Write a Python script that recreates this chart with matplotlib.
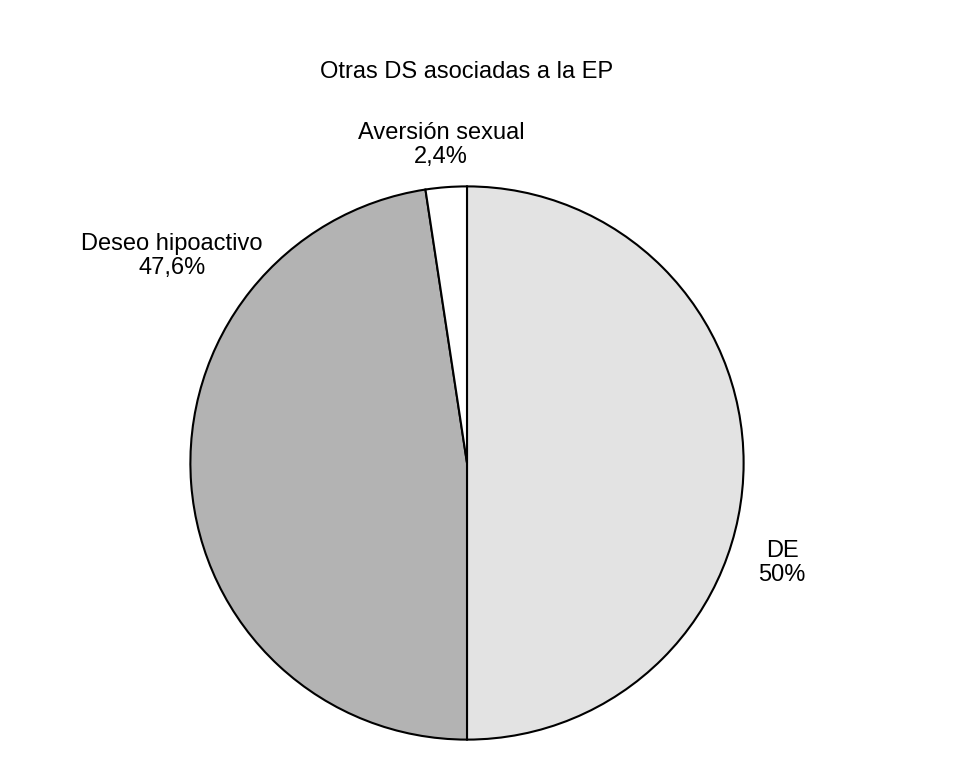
import matplotlib
matplotlib.use('Agg')
import matplotlib.pyplot as plt
from matplotlib import font_manager

# data
labels = ['DE', 'Deseo hipoactivo', 'Aversión sexual']
valores = [50.0, 47.6, 2.4]
etiquetas_pct = ['50%', '47,6%', '2,4%']
colores = ['#e3e3e3', '#b3b3b3', '#ffffff']

names = {f.name for f in font_manager.fontManager.ttflist}
fam = 'Liberation Sans Narrow' if 'Liberation Sans Narrow' in names else 'Liberation Sans'
plt.rcParams['font.family'] = [fam, 'DejaVu Sans']

W, H = 977, 768
fig = plt.figure(figsize=(W / 100, H / 100), dpi=100)
cx, cy, r = 467, 463, 278
ax = fig.add_axes([(cx - r) / W, (H - cy - r) / H, 2 * r / W, 2 * r / H])

ax.pie(valores, colors=colores, startangle=90, counterclock=False, radius=0.995,
       wedgeprops=dict(edgecolor='black', linewidth=1.5))
ax.set_xlim(-1, 1)
ax.set_ylim(-1, 1)
ax.set_aspect('equal')
ax.axis('off')

# label positions in pixels (center of each text block)
pos = {'DE': (782, 563), 'Deseo hipoactivo': (172, 256), 'Aversión sexual': (441, 145)}
for lab, pct in zip(labels, etiquetas_pct):
    px, py = pos[lab]
    fig.text(px / W, 1 - py / H, f'{lab}\n{pct}', ha='center', va='center',
             fontsize=17, linespacing=1.15)

fig.text(cx / W, 1 - 72 / H, 'Otras DS asociadas a la EP', ha='center', va='center', fontsize=17)

fig.savefig('out.png', dpi=100)
